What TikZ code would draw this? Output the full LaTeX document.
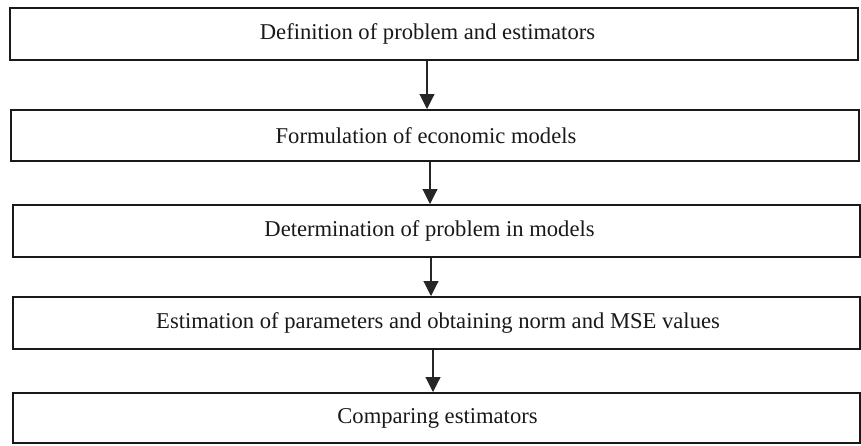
\documentclass[tikz,border=0pt]{standalone}
\usepackage{fontspec}
\setmainfont{Liberation Serif}
\usetikzlibrary{arrows.meta}
\begin{document}
\begin{tikzpicture}[x=1pt,y=-1pt,
  box/.style={draw=black!90,line width=2pt,rectangle,inner sep=0pt,fill=white},
  lbl/.style={inner sep=0pt,font=\fontsize{22.6}{27}\selectfont,text=black!90},
  arr/.style={draw=black!85,line width=1.1pt,-{Triangle[width=15pt,length=15pt]}}]
\useasboundingbox[fill=white] (0,0) rectangle (861,445);
\node[box,minimum width=848pt,minimum height=52pt] (b1) at (434,34) {};
\node[box,minimum width=848pt,minimum height=51pt] (b2) at (435,135.5) {};
\node[box,minimum width=847pt,minimum height=52pt] (b3) at (436.5,231) {};
\node[box,minimum width=847pt,minimum height=52pt] (b4) at (436.5,323) {};
\node[box,minimum width=847pt,minimum height=50pt] (b5) at (436.5,418) {};
\node[lbl] (t1) at (427.5,34) {Definition of problem and estimators};
\node[lbl] (t2) at (426,135.5) {Formulation of economic models};
\node[lbl] (t3) at (429.5,231) {Determination of problem in models};
\node[lbl] (t4) at (438,323) {Estimation of parameters and obtaining norm and MSE values};
\node[lbl] (t5) at (437.5,418) {Comparing estimators};
\draw[arr] ([xshift=-7pt]b1.south) -- ([xshift=-7pt]b1.south |- b2.north);
\draw[arr] ([xshift=-5pt]b2.south) -- ([xshift=-5pt]b2.south |- b3.north);
\draw[arr] ([xshift=-5.5pt]b3.south) -- ([xshift=-5.5pt]b3.south |- b4.north);
\draw[arr] ([xshift=-3.5pt]b4.south) -- ([xshift=-3.5pt]b4.south |- b5.north);
\end{tikzpicture}
\end{document}
